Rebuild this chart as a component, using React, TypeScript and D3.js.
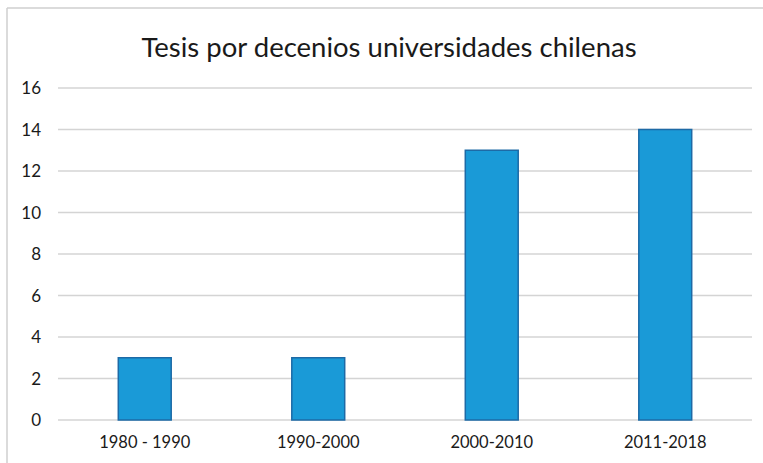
import React, { useEffect, useRef } from "react";
import * as d3 from "d3";

// data
const categories = ["1980 - 1990", "1990-2000", "2000-2010", "2011-2018"];
const values = [3, 3, 13, 14];
const yTicks = [0, 2, 4, 6, 8, 10, 12, 14, 16];
const title = "Tesis por decenios universidades chilenas";

export default function App() {
  const ref = useRef<SVGSVGElement>(null);

  useEffect(() => {
    const W = 763, H = 463;
    const svg = d3.select(ref.current).attr("width", W).attr("height", H);
    svg.selectAll("*").remove();

    var font = "Lato, 'Open Sans', sans-serif";

    svg.append("rect").attr("width", W).attr("height", H).attr("fill", "#fff");

    // frame (only top and left visible in the crop)
    svg.append("line")
      .attr("x1", 7).attr("x2", W).attr("y1", 8).attr("y2", 8)
      .attr("stroke", "#cfcfcf").attr("stroke-width", 1.5);
    svg.append("line")
      .attr("x1", 7).attr("x2", 7).attr("y1", 8).attr("y2", H)
      .attr("stroke", "#cfcfcf").attr("stroke-width", 1.5);

    svg.append("text")
      .attr("x", 389).attr("y", 57)
      .attr("text-anchor", "middle")
      .attr("font-family", font)
      .attr("font-size", 27.5)
      .attr("fill", "#1a1a1a")
      .text(title);

    const x = d3.scaleBand()
      .domain(categories)
      .range([58, 752])
      .paddingInner(0.695)
      .paddingOuter(0.3475);

    const y = d3.scaleLinear().domain([0, 16]).range([420, 88]);

    // grid lines
    svg.selectAll(".grid")
      .data(yTicks)
      .join("line")
      .attr("class", "grid")
      .attr("x1", 58).attr("x2", 752)
      .attr("y1", d => y(d)).attr("y2", d => y(d))
      .attr("stroke", "#d4d4d4")
      .attr("stroke-width", 1.6);

    // y labels
    svg.selectAll(".ylab")
      .data(yTicks)
      .join("text")
      .attr("class", "ylab")
      .attr("x", 41)
      .attr("y", d => y(d))
      .attr("dy", "0.36em")
      .attr("text-anchor", "end")
      .attr("font-family", font)
      .attr("font-size", 17)
      .attr("fill", "#1a1a1a")
      .text(d => d);

    // bars
    svg.selectAll(".bar")
      .data(values)
      .join("rect")
      .attr("class", "bar")
      .attr("x", (d, i) => x(categories[i]) as number)
      .attr("y", d => y(d))
      .attr("width", x.bandwidth())
      .attr("height", d => y(0) - y(d))
      .attr("fill", "#1a9ad7")
      .attr("stroke", "#1d6aa6")
      .attr("stroke-width", 1.5);

    // x labels
    svg.selectAll(".xlab")
      .data(categories)
      .join("text")
      .attr("class", "xlab")
      .attr("x", d => (x(d) as number) + x.bandwidth() / 2)
      .attr("y", 448)
      .attr("text-anchor", "middle")
      .attr("font-family", font)
      .attr("font-size", 16.5)
      .attr("fill", "#1a1a1a")
      .text(d => d);
  }, []);

  return (
    <div style={{ position: "absolute", left: 0, top: 0 }}>
      <svg ref={ref} style={{ display: "block" }}></svg>
    </div>
  );
}
